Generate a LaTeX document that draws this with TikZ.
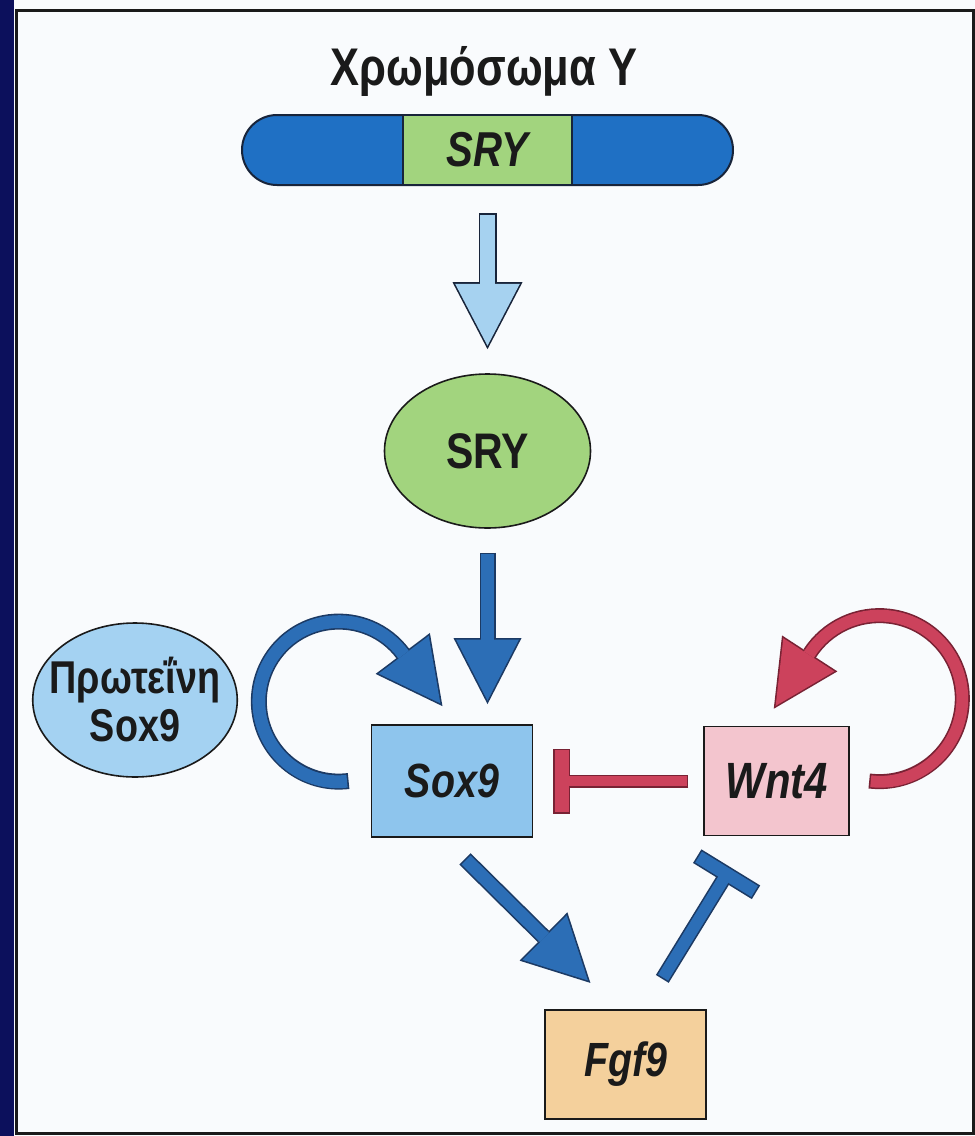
\documentclass[tikz,border=0pt]{standalone}
\usepackage{fontspec}
\newfontfamily\lab[FakeStretch=0.82]{Liberation Sans}
\usepackage{tikz}
\usetikzlibrary{shapes,arrows.meta,positioning}
\definecolor{navy}{RGB}{12,16,92}
\definecolor{pagebg}{RGB}{249,251,253}
\definecolor{chromblue}{RGB}{31,112,196}
\definecolor{outl}{RGB}{24,36,58}
\definecolor{bluedark}{RGB}{28,58,100}
\definecolor{bluemid}{RGB}{44,110,182}
\definecolor{skyblue}{RGB}{166,210,240}
\definecolor{boxblue}{RGB}{142,197,237}
\definecolor{protblue}{RGB}{164,210,242}
\definecolor{leaf}{RGB}{162,212,126}
\definecolor{reddark}{RGB}{120,34,52}
\definecolor{redmid}{RGB}{204,66,92}
\definecolor{wntpink}{RGB}{243,197,206}
\definecolor{fgfpeach}{RGB}{244,208,156}
\definecolor{ink}{RGB}{26,26,26}
\tikzstyle{gene} = [rectangle, draw=ink, line width=0.9pt, text=ink, font=\lab\bfseries\itshape\fontsize{24}{28}\selectfont, minimum width=80.5pt, minimum height=56pt, inner sep=0pt]
\tikzstyle{prot} = [ellipse, draw=ink, line width=0.8pt, text=ink, font=\lab\bfseries\fontsize{25}{28}\selectfont, align=center, inner sep=0pt]
\tikzstyle{skyarrow} = [draw=outl, line width=9pt, -{Triangle[length=33.5pt, width=35pt, line width=0pt]}, postaction={draw=skyblue, line width=7.4pt, shorten <=0.8pt, shorten >=1.73pt, -{Triangle[length=30.97pt, width=32.36pt, line width=0pt]}}]
\tikzstyle{bluearrow} = [draw=bluedark, line width=8pt, -{Triangle[length=33pt, width=34pt, line width=0pt]}, postaction={draw=bluemid, line width=6.4pt, shorten <=0.8pt, shorten >=1.75pt, -{Triangle[length=30.45pt, width=31.37pt, line width=0pt]}}]
\tikzstyle{redarrow} = [draw=reddark, line width=7.5pt, -{Triangle[length=33pt, width=33pt, line width=0pt]}, postaction={draw=redmid, line width=5.9pt, shorten <=0.8pt, shorten >=1.75pt, -{Triangle[length=30.45pt, width=30.45pt, line width=0pt]}}]
\tikzstyle{bluebar} = [draw=bluedark, line width=7.5pt, -{Bar[width=34.5pt, line width=8pt]}, postaction={draw=bluemid, line width=5.9pt, shorten <=0.8pt, shorten >=0.8pt, -{Bar[width=32.9pt, line width=6.4pt]}}]
\tikzstyle{redbar} = [draw=reddark, line width=6.5pt, -{Bar[width=32.5pt, line width=8.5pt]}, postaction={draw=redmid, line width=4.9pt, shorten <=0.8pt, shorten >=0.8pt, -{Bar[width=30.9pt, line width=6.9pt]}}]
\begin{document}
\begin{tikzpicture}[x=0.5pt, y=0.5pt]
\useasboundingbox (0,0) rectangle (975,-1136);

% page =============================
\fill[pagebg] (0,0) rectangle (975,-1136);
\fill[navy] (0,0) rectangle (14,-1136);
\draw[ink, line width=1.5pt] (16.5,-10) rectangle (973,-1133);

% chromosome
\node[anchor=base, text=ink, font=\lab\bfseries\fontsize{26.5}{30}\selectfont] (title) at (484,-85) {Χρωμόσωμα Y};
\node[rectangle, rounded corners=17.5pt, draw=outl, line width=1pt, fill=chromblue, minimum width=245.5pt, minimum height=35pt] (chrom) at (487.5,-150) {};
\node[rectangle, draw=outl, line width=1pt, fill=leaf, minimum width=84.5pt, minimum height=35pt, inner sep=0pt, text=ink, font=\lab\bfseries\itshape\fontsize{24.5}{28}\selectfont] (srygene) at (chrom) {SRY};

% proteins
\node[prot, fill=leaf, minimum width=103pt, minimum height=77pt] (sryprot) at (487.5,-451) {SRY};
\node[prot, fill=protblue, minimum width=102pt, minimum height=77pt, inner xsep=-6.5pt, font=\lab\bfseries\fontsize{23}{24}\selectfont] (sox9prot) at (135,-700) {Πρωτεΐνη\\Sox9};

% genes
\node[gene, fill=boxblue] (sox9) at (452,-781) {Sox9};
\node[gene, fill=wntpink, minimum width=72.5pt, minimum height=54.5pt, font=\lab\bfseries\itshape\fontsize{25.5}{28}\selectfont, right=85pt of sox9] (wnt4) {Wnt4};
\node[gene, fill=fgfpeach, minimum height=54.5pt, below right=85.5pt and 5.5pt of sox9] (fgf9) {Fgf9};

% free ends
\coordinate[below=13.5pt of chrom] (chromout);
\coordinate[above=12pt of sryprot] (sryin);
\coordinate[below=12pt of sryprot] (sryout);
\path (sryout |- sox9.north) ++(0,20) coordinate (sox9in);
\path (sox9.south) ++(13,-21) coordinate (sox9out);
\path (fgf9.north west) ++(46,26) coordinate (fgf9in);
\path (fgf9.north) ++(36.5,30) coordinate (fgf9out);
\path (wnt4.south) ++(-46,-31) coordinate (wnt4bar);
\coordinate[left=7.5pt of wnt4] (wnt4out);
\path (wnt4out -| sox9.east) ++(20,0) coordinate (sox9bar);

% edges
\path[skyarrow] (chromout) -- (sryin);
\path[bluearrow] (sryout) -- (sox9in);
\path[bluearrow] (sox9out) -- (fgf9in);
\path[bluebar] (fgf9out) -- (wnt4bar);
\path[redbar] (wnt4out) -- (sox9bar);

% self loops
\path[bluearrow] ([xshift=-11pt]sox9.west) arc[start angle=-83, end angle=-323, radius=40pt] -- ++(-53:33pt);
\path[redarrow] ([xshift=9.5pt]wnt4.east) arc[start angle=-97, end angle=147, radius=41.5pt] -- ++(-123:33pt);

\end{tikzpicture}
\end{document}
